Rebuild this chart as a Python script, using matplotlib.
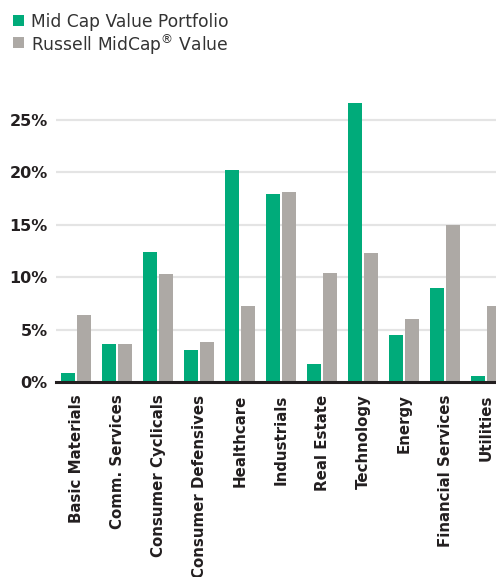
import matplotlib
matplotlib.use("Agg")
import matplotlib.pyplot as plt
import numpy as np
from matplotlib.patches import Rectangle

categories = ["Basic Materials", "Comm. Services", "Consumer Cyclicals", "Consumer Defensives",
              "Healthcare", "Industrials", "Real Estate", "Technology", "Energy",
              "Financial Services", "Utilities"]
portfolio = [0.9, 3.6, 12.4, 3.1, 20.2, 17.9, 1.7, 26.6, 4.5, 9.0, 0.6]
benchmark = [6.4, 3.6, 10.3, 3.8, 7.3, 18.1, 10.4, 12.3, 6.0, 15.0, 7.3]
yticks = [0, 5, 10, 15, 20, 25]
ytick_labels = ["0%", "5%", "10%", "15%", "20%", "25%"]
series_names = ["Mid Cap Value Portfolio", "Russell MidCap$^{\\circledR}$ Value"]

GREEN = "#00ab7a"
GRAY = "#ada9a5"
DARK = "#231f20"

W, H = 496, 577
fig = plt.figure(figsize=(W / 100, H / 100), dpi=100)

left_px, right_px = 56, 496
bottom_px, top_px = 382, 88.6
ax = fig.add_axes([left_px / W, (H - bottom_px) / H, (right_px - left_px) / W, (bottom_px - top_px) / H])

x = np.arange(len(categories))
bw = 14 / 41
off = 8 / 41
ax.bar(x - off, portfolio, width=bw, color=GREEN, zorder=3)
ax.bar(x + off, benchmark, width=bw, color=GRAY, zorder=3)

ax.set_xlim(-0.49, 10.24)
ax.set_ylim(0, 28)
ax.set_yticks(yticks)
ax.set_yticklabels(ytick_labels, fontsize=11.5, fontweight="bold", color=DARK, family="DejaVu Sans")
ax.tick_params(axis="y", length=0, pad=6)
ax.set_xticks(x)
ax.set_xticklabels(categories, rotation=90, fontsize=10.8, fontweight="bold", color=DARK,
                   family="DejaVu Sans", va="top", ha="center")
ax.tick_params(axis="x", length=0, pad=9)

for v in yticks[1:]:
    ax.axhline(v, color="#e4e4e4", lw=1.6, zorder=1)
for s in ["top", "right", "left"]:
    ax.spines[s].set_visible(False)
ax.spines["bottom"].set_color(DARK)
ax.spines["bottom"].set_linewidth(2.2)
ax.spines["bottom"].set_zorder(4)

# legend drawn in figure pixel coordinates
colors = [GREEN, GRAY]
rows_y = [20, 42]
for name, c, yc in zip(series_names, colors, rows_y):
    fig.patches.append(Rectangle((13 / W, (H - yc - 5.5) / H), 11 / W, 11 / H,
                                 transform=fig.transFigure, facecolor=c, edgecolor="none"))
    fig.text(31 / W, (H - yc) / H, name, fontsize=12.3, color="#333333",
             va="center_baseline", ha="left", family="DejaVu Sans")

fig.savefig("out.png", dpi=100)
